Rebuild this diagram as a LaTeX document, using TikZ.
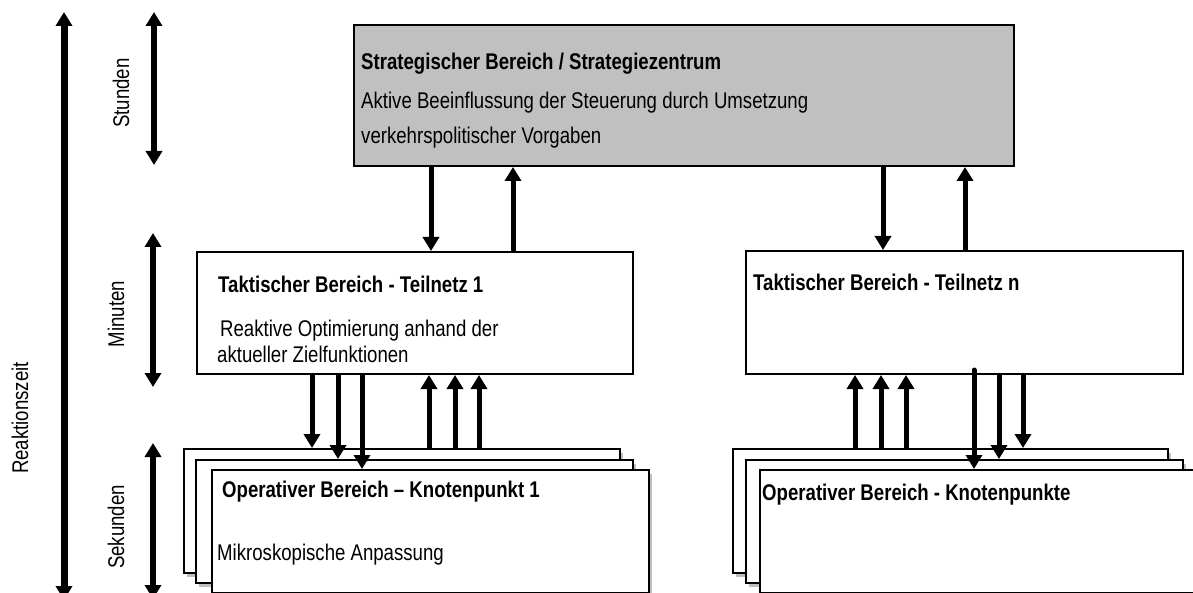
\documentclass[tikz,border=0pt]{standalone}
\usepackage{fontspec}
\setmainfont{Liberation Sans}[FakeStretch=0.82]
\usetikzlibrary{positioning}
\usetikzlibrary{arrows.meta,shadows}

\definecolor{stratgray}{RGB}{192,192,192}

\begin{document}
\begin{tikzpicture}[
                x=1pt, y=-1pt,
                font=\fontsize{22.7}{27}\selectfont,
                box/.style = {
                    draw,
                    rectangle,
                    line width = 2pt,
                    fill = white,
                    anchor = north west,
                    inner sep = 0pt
                },
                stack/.style = {
                    box,
                    drop shadow = {shadow xshift=3pt, shadow yshift=-4pt,
                                   fill=gray!50, opacity=1}
                },
                headtext/.style = {
                    anchor = base west,
                    inner sep = 0pt,
                    font = \bfseries\fontsize{22.7}{27}\selectfont
                },
                bodytext/.style = {
                    anchor = base west,
                    inner sep = 0pt
                },
                sidetext/.style = {
                    rotate = 90,
                    inner sep = 0pt
                },
                flow/.style = {
                    line width = 5pt,
                    -{Triangle[length=14pt, width=16pt]}
                },
                timeline/.style = {
                    line width = 6.5pt,
                    {Triangle[length=14pt, width=16pt]}-{Triangle[length=14pt, width=16pt]}
                }
            ]
            \useasboundingbox (0,0) rectangle (1193,593);
            %
            % strategischer Bereich
            \node[box, fill=stratgray, minimum width=660pt, minimum height=141pt] (strat) at (353,24) {};
            \node[headtext] (stratT) at (361,70) {Strategischer Bereich / Strategiezentrum};
            \node[bodytext] (stratB1) at (361,109) {Aktive Beeinflussung der Steuerung durch Umsetzung};
            \node[bodytext] (stratB2) at ([yshift=-35pt]stratB1.base west) {verkehrspolitischer Vorgaben};
            %
            % taktische Bereiche
            \node[box, minimum width=436pt, minimum height=122pt] (tacA) at (196,251) {};
            \node[headtext] (tacAT) at (218,293) {Taktischer Bereich - Teilnetz 1};
            \node[bodytext] (tacAB1) at (220,336) {Reaktive Optimierung anhand der};
            \node[bodytext] (tacAB2) at ([xshift=-3pt, yshift=-26pt]tacAB1.base west) {aktueller Zielfunktionen};
            %
            \node[box, minimum width=437pt, minimum height=123pt] (tacN) at (745,250) {};
            \node[headtext] (tacNT) at (753,291) {Taktischer Bereich - Teilnetz n};
            %
            % operative Bereiche
            \node[stack, minimum width=436pt, minimum height=124pt] (opsA1) at (183,448) {};
            \node[stack, minimum width=437pt, minimum height=123pt] (opsA2) at (195,459) {};
            \node[stack, minimum width=437pt, minimum height=123pt] (opsA3) at (211,469) {};
            \node[headtext] (opsAT) at (222,497) {Operativer Bereich – Knotenpunkt 1};
            \node[bodytext] (opsAB) at (217,560) {Mikroskopische Anpassung};
            %
            \node[stack, minimum width=435pt, minimum height=124pt] (opsN1) at (732,448) {};
            \node[stack, minimum width=437pt, minimum height=123pt] (opsN2) at (745,459) {};
            \node[stack, minimum width=440pt, minimum height=123pt] (opsN3) at (759,469) {};
            \node[headtext] (opsNT) at (762,500) {Operativer Bereich - Knotenpunkte};
            %
            % Pfeile strategisch - taktisch
            \draw[flow] (431,0 |- strat.south) -- (431,0 |- tacA.north);
            \draw[flow] (513,0 |- tacA.north) -- (513,0 |- strat.south);
            \draw[flow] (883,0 |- strat.south) -- (883,0 |- tacN.north);
            \draw[flow] (965,0 |- tacN.north) -- (965,0 |- strat.south);
            %
            % Pfeile taktisch - operativ, Teilnetz 1
            \draw[flow] (312,0 |- tacA.south) -- (312,0 |- opsA1.north);
            \draw[flow] (338,0 |- tacA.south) -- (338,0 |- opsA2.north);
            \draw[flow] (362,0 |- tacA.south) -- (362,0 |- opsA3.north);
            \draw[flow] (429,0 |- opsA1.north) -- (429,0 |- tacA.south);
            \draw[flow] (455,0 |- opsA1.north) -- (455,0 |- tacA.south);
            \draw[flow] (479,0 |- opsA1.north) -- (479,0 |- tacA.south);
            %
            % Pfeile taktisch - operativ, Teilnetz n
            \draw[flow] (855,0 |- opsN1.north) -- (855,0 |- tacN.south);
            \draw[flow] (881,0 |- opsN1.north) -- (881,0 |- tacN.south);
            \draw[flow] (906,0 |- opsN1.north) -- (906,0 |- tacN.south);
            \draw[flow, line cap=round, shorten <=-5pt] (974,0 |- tacN.south) -- (974,0 |- opsN3.north);
            \draw[flow] (999,0 |- tacN.south) -- (999,0 |- opsN2.north);
            \draw[flow] (1023,0 |- tacN.south) -- (1023,0 |- opsN1.north);
            %
            % Zeitachsen
            \coordinate (rzTop) at (64,12);
            \coordinate (rzBot) at (64,600);
            \coordinate (stTop) at (154,12);
            \coordinate (stBot) at (154,165);
            \coordinate (miTop) at (153,233);
            \coordinate (miBot) at (153,387);
            \coordinate (seTop) at (153,443);
            \coordinate (seBot) at (153,599);
            \draw[timeline, line width=7pt] (rzTop) -- (rzBot);
            \draw[timeline] (stTop) -- (stBot);
            \draw[timeline] (miTop) -- (miBot);
            \draw[timeline] (seTop) -- (seBot);
            %
            \node[sidetext] (rzLabel) at (20,418) {Reaktionszeit};
            \node[sidetext] (stLabel) at (121,93) {Stunden};
            \node[sidetext] (miLabel) at (116,314) {Minuten};
            \node[sidetext] (seLabel) at (116,527) {Sekunden};
            %
        \end{tikzpicture}
\end{document}
